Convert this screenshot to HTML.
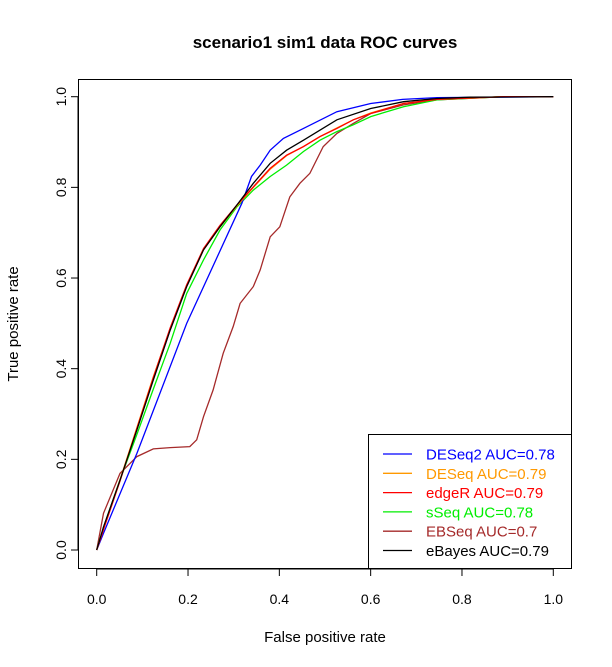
<!DOCTYPE html>
<html><head><meta charset="utf-8"><style>body{margin:0;background:#fff}svg{display:block;font-family:"Liberation Sans",Arial,sans-serif}</style></head>
<body>
<svg id="chart" width="612" height="667" xmlns="http://www.w3.org/2000/svg">
<text x="325" y="48" text-anchor="middle" font-size="17" font-weight="bold">scenario1 sim1 data ROC curves</text>
<rect x="78.5" y="79.5" width="493" height="489" fill="none" stroke="#000"/>
<g id="axes"></g>
<g id="series"></g>
<text x="325" y="642" text-anchor="middle" font-size="15">False positive rate</text>
<text transform="translate(18,324) rotate(-90)" text-anchor="middle" font-size="15">True positive rate</text>
<g id="legend"></g>
</svg>
<script>
const xTicks=[0,0.2,0.4,0.6,0.8,1.0];
const yTicks=[0,0.2,0.4,0.6,0.8,1.0];
const seriesNames=["DESeq2","DESeq","edgeR","sSeq","EBSeq","eBayes"];
const seriesColors=["#0000ff","#ff9900","#ff0000","#00ee00","#a52a2a","#000000"];
const aucValues=["0.78","0.79","0.79","0.78","0.7","0.79"];
const deseq2X=[0,0.015,0.088,0.197,0.318,0.339,0.358,0.38,0.409,0.453,0.526,0.6,0.67,0.745,1];
const deseq2Y=[0,0.037,0.213,0.5,0.765,0.824,0.849,0.882,0.908,0.93,0.967,0.985,0.994,0.998,1];
const ebayesX=[0,0.015,0.051,0.088,0.124,0.161,0.197,0.234,0.27,0.307,0.343,0.38,0.416,0.453,0.526,0.6,0.672,0.745,0.818,1];
const ebayesY=[0,0.051,0.154,0.265,0.375,0.485,0.581,0.662,0.713,0.761,0.809,0.853,0.882,0.904,0.949,0.974,0.989,0.996,0.999,1];
const edgerX=[0,0.015,0.051,0.088,0.124,0.161,0.197,0.234,0.27,0.307,0.343,0.38,0.416,0.453,0.489,0.526,0.562,0.6,0.672,0.745,0.89,1];
const edgerY=[0,0.045,0.152,0.268,0.38,0.49,0.585,0.665,0.716,0.761,0.801,0.842,0.871,0.89,0.912,0.93,0.949,0.963,0.985,0.994,1,1];
const deseqY=[0,0.047,0.155,0.27,0.382,0.488,0.583,0.662,0.713,0.759,0.8,0.84,0.87,0.89,0.912,0.931,0.949,0.964,0.985,0.994,1,1];
const sseqX=[0,0.015,0.051,0.088,0.124,0.161,0.197,0.234,0.27,0.307,0.343,0.38,0.416,0.453,0.489,0.526,0.562,0.6,0.672,0.745,0.89,1];
const sseqY=[0,0.05,0.155,0.255,0.355,0.456,0.566,0.64,0.706,0.757,0.794,0.824,0.849,0.879,0.904,0.923,0.938,0.956,0.978,0.993,1,1];
const ebseqX=[0,0.015,0.051,0.088,0.124,0.161,0.204,0.219,0.234,0.255,0.277,0.299,0.314,0.343,0.358,0.38,0.401,0.423,0.445,0.467,0.496,0.526,0.562,0.6,0.672,0.745,0.89,1];
const ebseqY=[0,0.081,0.169,0.206,0.223,0.226,0.228,0.243,0.294,0.353,0.434,0.493,0.544,0.581,0.618,0.691,0.713,0.779,0.809,0.831,0.89,0.919,0.941,0.963,0.982,0.993,1,1];
const NS="http://www.w3.org/2000/svg";
const sx=v=>96.7+v*(553.3-96.7);
const sy=v=>550-v*(550-96.7);
function mk(t,a,p){const e=document.createElementNS(NS,t);for(const k in a)e.setAttribute(k,a[k]);p.appendChild(e);return e;}
const axes=document.getElementById('axes');
mk('line',{x1:sx(0),x2:sx(1),y1:569,y2:569,stroke:'#000'},axes);
mk('line',{x1:78,x2:78,y1:sy(0),y2:sy(1),stroke:'#000'},axes);
xTicks.forEach(t=>{
 const l=mk('line',{x1:sx(t),x2:sx(t),y1:569,y2:576,stroke:'#000'},axes);
 
 
 const tx=mk('text',{x:sx(t),y:604,'text-anchor':'middle','font-size':14},axes);
 tx.textContent=t.toFixed(1);
 
 
});
yTicks.forEach(t=>{
 const l=mk('line',{x1:71,x2:78,y1:sy(t),y2:sy(t),stroke:'#000'},axes);
 
 
 const tx=mk('text',{transform:`translate(66,${sy(t)}) rotate(-90)`,'text-anchor':'middle','font-size':14},axes);
 tx.textContent=t.toFixed(1);
 
 
});
const sg=document.getElementById('series');
const data=[[deseq2X,deseq2Y],[edgerX,deseqY],[edgerX,edgerY],[sseqX,sseqY],[ebseqX,ebseqY],[ebayesX,ebayesY]];
const order=[4,3,0,1,2,5];
order.forEach(i=>{
 const [xs,ys]=data[i];
 const pts=xs.map((x,j)=>sx(x).toFixed(1)+','+sy(ys[j]).toFixed(1)).join(' ');
 const p=mk('polyline',{points:pts,fill:'none',stroke:seriesColors[i],'stroke-width':1.3},sg);
 
 
});
const lg=document.getElementById('legend');
const box=mk('rect',{x:368.5,y:434.5,width:203,height:134,fill:'#fff',stroke:'#000'},lg);


seriesNames.forEach((n,i)=>{
 const y=454+i*19.3;
 const l=mk('line',{x1:383,x2:412,y1:y,y2:y,stroke:seriesColors[i],'stroke-width':1.3},lg);
 
 
 const t=mk('text',{x:426,y:y+5.5,'font-size':15,fill:seriesColors[i]},lg);
 t.textContent=n+' AUC='+aucValues[i];
 
 
});
</script>
</body></html>
